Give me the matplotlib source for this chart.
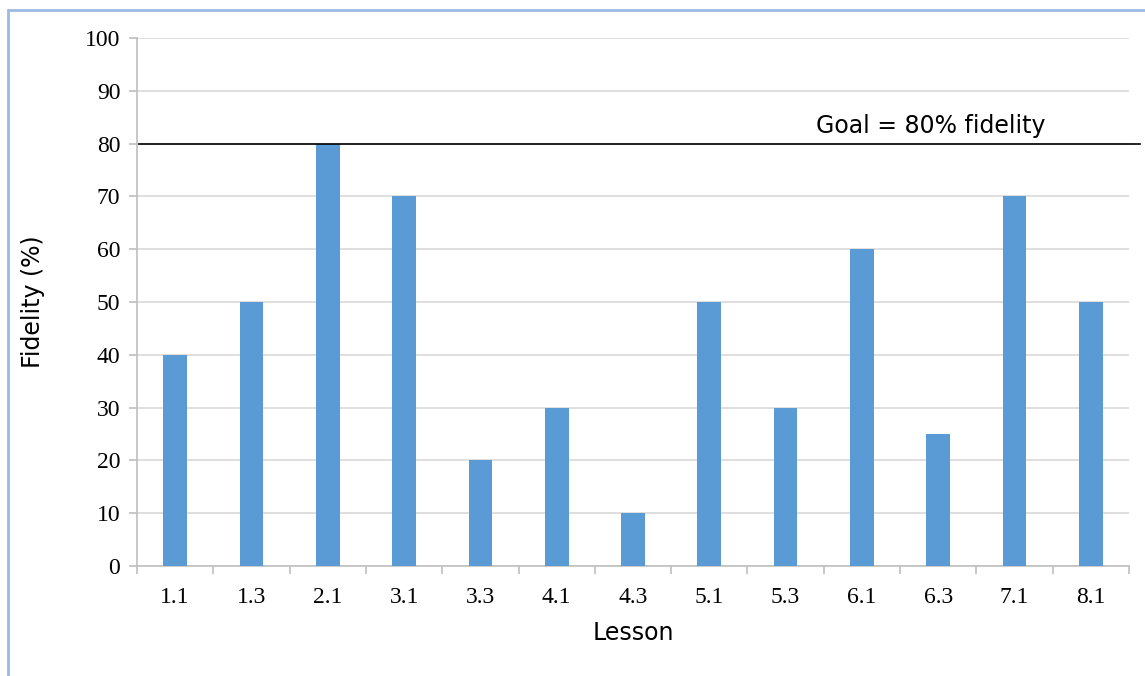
import matplotlib
matplotlib.use("Agg")
import matplotlib.pyplot as plt
from matplotlib.patches import Rectangle

lessons = ["1.1", "1.3", "2.1", "3.1", "3.3", "4.1", "4.3", "5.1", "5.3", "6.1", "6.3", "7.1", "8.1"]
fidelity = [40, 50, 80, 70, 20, 30, 10, 50, 30, 60, 25, 70, 50]
goal = 80
y_ticks = list(range(0, 101, 10))

W, H = 1145, 676
fig = plt.figure(figsize=(W / 100, H / 100), dpi=100)
ax = fig.add_axes([137 / W, 1 - 566 / H, (1129 - 137) / W, (566 - 38) / H])

# light blue frame around the whole chart
fig.patches.append(Rectangle((8 / W, -0.05), 1.1, 1 - 10 / H + 0.05, transform=fig.transFigure,
                             fill=False, edgecolor="#9DB9E6", linewidth=2))

x = list(range(len(lessons)))
ax.bar(x, fidelity, width=0.31, color="#5B9BD5", zorder=3)

ax.set_xlim(-0.5, len(lessons) - 0.5)
ax.set_ylim(0, 100)
ax.set_yticks(y_ticks)
ax.set_yticklabels([str(v) for v in y_ticks], fontfamily="Liberation Serif", fontsize=17)
ax.set_xticks(x)
ax.set_xticklabels(lessons, fontfamily="Liberation Serif", fontsize=17)
ax.set_xticks([i - 0.5 for i in range(len(lessons) + 1)], minor=True)

ax.yaxis.grid(True, color="#D9D9D9", linewidth=1.2, zorder=0)
ax.tick_params(axis="x", which="major", length=0, pad=15)
ax.tick_params(axis="x", which="minor", length=6, color="#BFBFBF", width=1.2)
ax.tick_params(axis="y", length=6, color="#BFBFBF", width=1.2, pad=6)
for side in ["top", "right"]:
    ax.spines[side].set_visible(False)
for side in ["left", "bottom"]:
    ax.spines[side].set_color("#BFBFBF")
    ax.spines[side].set_linewidth(1.2)

# goal line runs a bit past the plot area
ax.plot([0.002, 1.011], [goal, goal], transform=ax.get_yaxis_transform(), color="black",
        linewidth=1.2, clip_on=False, zorder=4)
ax.text(0.80, goal + 1, "Goal = 80% fidelity", transform=ax.get_yaxis_transform(),
        ha="center", va="bottom", fontsize=17, fontfamily="DejaVu Sans")

ax.set_ylabel("Fidelity (%)", fontsize=17, fontfamily="DejaVu Sans")
ax.set_xlabel("Lesson", fontsize=17, fontfamily="DejaVu Sans")
ax.yaxis.set_label_coords((33 - 137) / (1129 - 137), 0.5)
ax.xaxis.set_label_coords(0.5, -(633 - 566) / (566 - 38))
ax.xaxis.label.set_va("center")
ax.yaxis.label.set_va("center")

fig.savefig("out.png", dpi=100)
